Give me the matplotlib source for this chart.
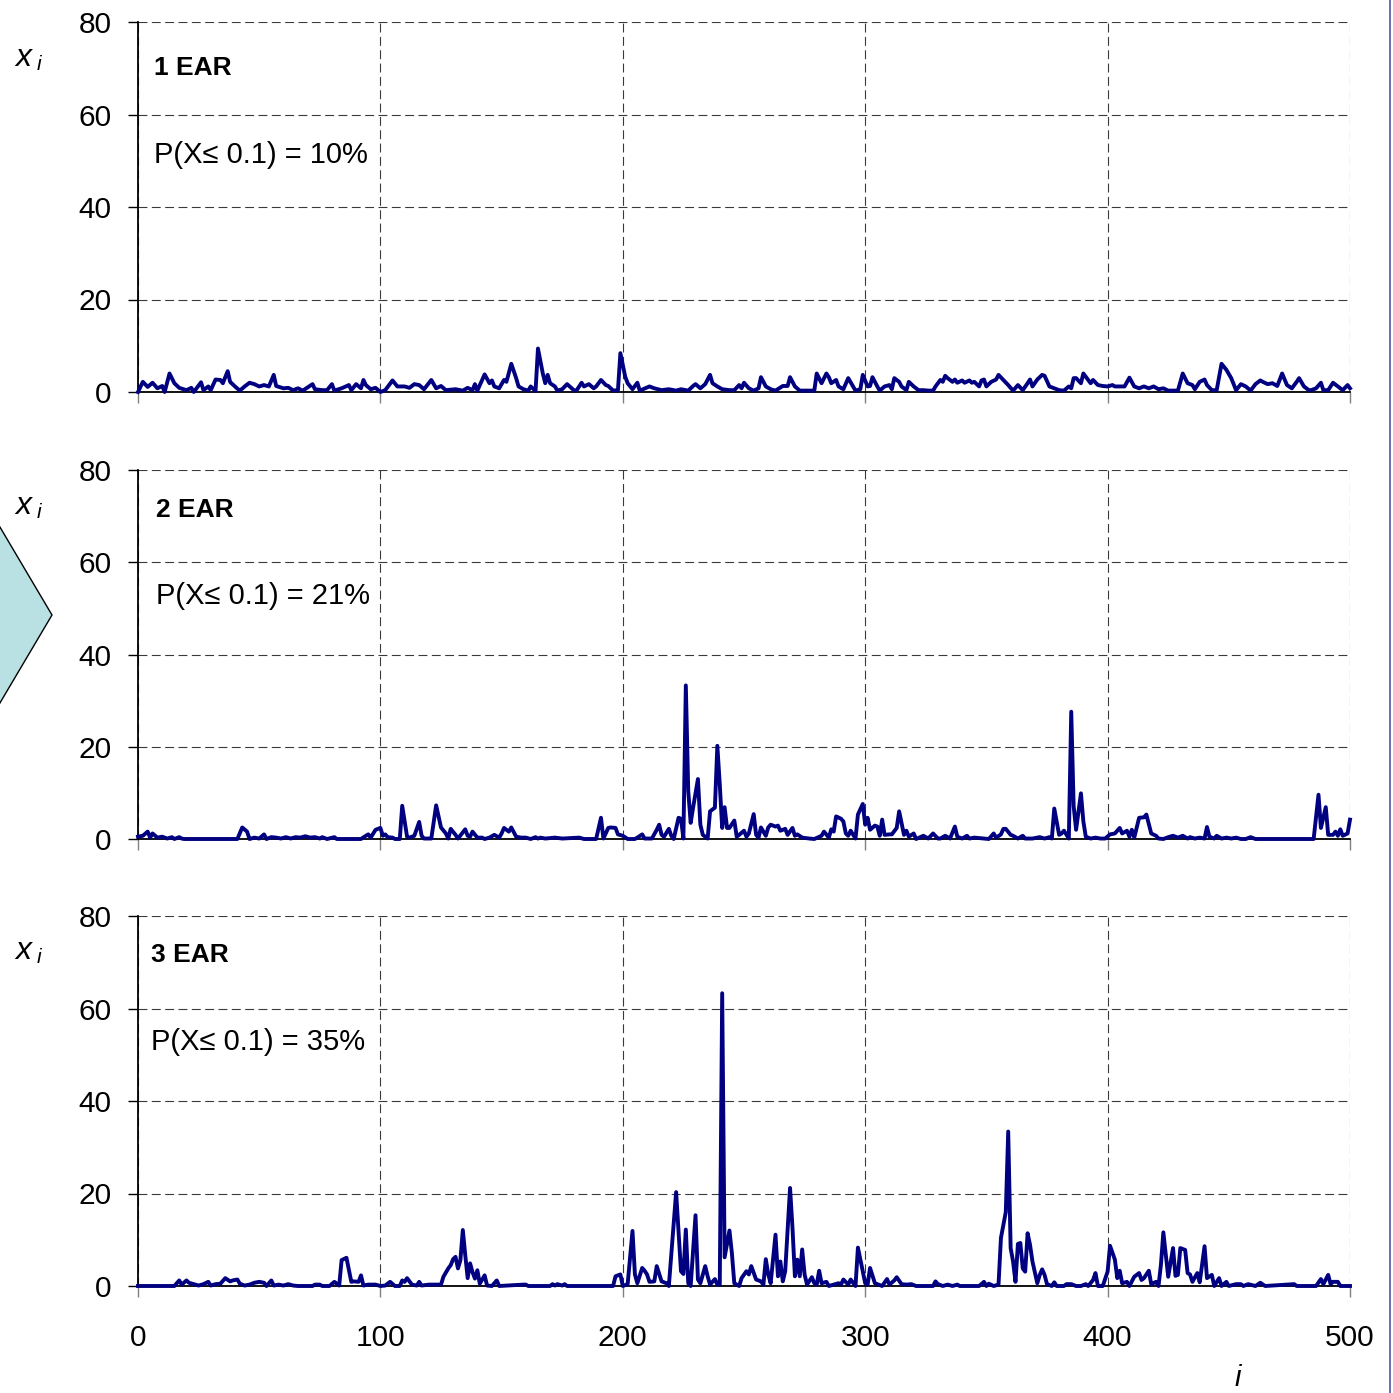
import matplotlib
matplotlib.use("Agg")
import matplotlib.pyplot as plt
from matplotlib.patches import Polygon
from matplotlib.lines import Line2D

plt.rcParams["font.family"] = ["Liberation Sans", "DejaVu Sans"]

# ---- data: sample index i and value x_i (breakpoints of each trace) ----
ear1_i = [0, 2, 4, 6, 8, 10, 11, 13, 15, 17, 20, 22, 23, 26, 27, 29, 30, 32, 34, 35,
          37, 38, 40, 42, 44, 46, 48, 50, 52, 54, 56, 57, 60, 62, 64, 66, 68, 72, 73, 76,
          78, 80, 81, 84, 87, 88, 90, 92, 93, 94, 96, 98, 100, 102, 105, 107, 110, 112, 114, 116,
          118, 121, 123, 125, 127, 131, 134, 136, 138, 139, 140, 143, 145, 146, 147, 149, 151, 152, 154, 156,
          157, 159, 161, 162, 164, 165, 167, 168, 169, 170, 172, 173, 175, 177, 180, 181, 183, 184, 186, 188,
          189, 191, 193, 194, 196, 198, 199, 201, 202, 204, 206, 207, 211, 213, 216, 219, 222, 224, 227, 229,
          230, 232, 234, 236, 237, 239, 241, 244, 246, 248, 249, 250, 252, 254, 256, 257, 259, 261, 263, 266,
          268, 269, 271, 273, 276, 279, 280, 282, 284, 285, 286, 288, 289, 291, 293, 295, 296, 298, 299, 301,
          302, 303, 305, 306, 308, 310, 311, 312, 314, 315, 317, 318, 320, 322, 324, 326, 328, 329, 331, 332,
          333, 334, 336, 337, 338, 340, 341, 343, 344, 345, 347, 348, 349, 350, 352, 354, 355, 357, 359, 361,
          363, 365, 367, 368, 369, 371, 373, 374, 376, 378, 380, 382, 384, 385, 386, 387, 389, 390, 391, 393,
          394, 396, 398, 400, 402, 403, 405, 407, 409, 411, 413, 415, 417, 419, 421, 423, 425, 427, 429, 431,
          433, 435, 436, 438, 440, 441, 443, 445, 447, 449, 451, 453, 455, 457, 459, 461, 463, 464, 466, 468,
          470, 472, 474, 476, 478, 479, 481, 483, 484, 486, 488, 489, 491, 493, 495, 497, 499, 500]
ear1_x = [0, 2.2, 1.1, 2.0, 0.8, 1.3, 0, 4.0, 1.9, 0.9, 0.4, 0.9, 0, 2.1, 0.4, 1.2, 0.4, 2.7, 2.6, 1.9,
          4.5, 2.2, 1.2, 0.3, 1.2, 2.0, 1.7, 1.2, 1.5, 1.2, 3.7, 1.3, 0.8, 0.9, 0.4, 0.8, 0.3, 1.7, 0.6, 0.4,
          0.4, 1.7, 0.3, 0.8, 1.5, 0.4, 1.7, 0.8, 2.6, 1.5, 0.6, 0.9, 0, 0.4, 2.5, 1.2, 1.2, 0.9, 1.7, 1.5,
          0.6, 2.6, 0.8, 1.3, 0.4, 0.6, 0.3, 0.9, 0.4, 1.7, 0.3, 3.8, 1.9, 2.5, 1.2, 0.8, 2.6, 2.2, 6.1, 3.0,
          1.2, 0.6, 0.3, 1.2, 0.2, 9.4, 4.0, 1.9, 3.7, 1.9, 1.2, 0.3, 0.6, 1.7, 0.3, 0.4, 2.0, 1.2, 1.7, 0.8,
          1.2, 2.6, 1.5, 1.3, 0.3, 0.4, 8.4, 3.3, 1.9, 0.6, 2.0, 0.3, 1.2, 0.8, 0.4, 0.6, 0.3, 0.6, 0.3, 1.3,
          1.7, 0.8, 1.7, 3.7, 1.9, 1.2, 0.6, 0.4, 0.4, 1.5, 0.8, 2.0, 0.8, 0.3, 0.8, 3.2, 1.2, 0.6, 0.3, 1.3,
          1.3, 3.2, 1.2, 0.3, 0.3, 0.3, 4.0, 1.9, 4.0, 3.2, 1.9, 2.6, 1.2, 0.6, 3.0, 1.2, 0.3, 0.6, 3.7, 1.2,
          1.3, 3.2, 1.2, 0.3, 1.2, 1.5, 0.6, 3.0, 2.2, 1.2, 0.4, 2.2, 1.2, 0.4, 0.4, 0.3, 0.3, 1.2, 2.6, 2.2,
          3.5, 3.0, 2.2, 2.7, 2.0, 2.5, 2.0, 2.5, 2.0, 2.2, 1.2, 2.5, 2.7, 1.2, 2.2, 2.7, 3.7, 2.6, 1.5, 0.3,
          1.5, 0.4, 1.9, 2.7, 1.2, 2.7, 3.7, 3.5, 1.2, 0.8, 0.4, 0.3, 1.2, 0.8, 3.0, 3.0, 1.9, 4.0, 3.3, 1.9,
          2.6, 1.5, 1.3, 1.2, 1.5, 1.2, 1.2, 1.2, 3.1, 1.2, 0.8, 1.2, 0.8, 1.2, 0.6, 0.8, 0.3, 0.3, 0.3, 4.0,
          1.9, 1.5, 0.6, 2.2, 2.7, 1.5, 0.4, 0.4, 6.1, 4.8, 3.0, 0.4, 1.7, 1.2, 0.3, 1.7, 2.5, 2.2, 1.7, 1.9,
          1.3, 4.0, 1.5, 0.8, 2.2, 3.0, 1.2, 0.4, 0.4, 0.8, 2.0, 0.4, 0.4, 2.0, 1.2, 0.4, 1.5, 0.8]

ear2_i = [0, 2, 4, 5, 6, 8, 10, 12, 14, 15, 17, 18, 19, 41, 43, 45, 46, 48, 50, 52,
          53, 55, 57, 59, 61, 63, 65, 67, 69, 71, 73, 75, 76, 78, 81, 82, 92, 94, 95, 96,
          98, 100, 101, 102, 103, 105, 106, 108, 109, 111, 112, 114, 116, 117, 118, 121, 123, 125, 127, 128,
          129, 131, 132, 135, 136, 137, 138, 140, 142, 143, 145, 147, 149, 150, 151, 153, 154, 156, 158, 160,
          162, 164, 165, 166, 168, 172, 175, 182, 184, 189, 191, 192, 194, 195, 197, 198, 200, 202, 205, 206,
          208, 209, 212, 214, 215, 216, 217, 219, 220, 221, 223, 224, 225, 226, 227, 228, 229, 231, 232, 233,
          235, 236, 238, 239, 240, 241, 242, 243, 244, 246, 247, 248, 250, 251, 252, 254, 255, 256, 257, 259,
          260, 261, 263, 264, 265, 267, 268, 270, 271, 272, 274, 277, 279, 282, 283, 285, 286, 287, 288, 290,
          291, 292, 293, 294, 296, 297, 299, 300, 301, 302, 304, 305, 306, 307, 308, 310, 311, 313, 314, 316,
          317, 318, 320, 321, 324, 326, 328, 330, 331, 333, 335, 337, 338, 340, 342, 343, 345, 349, 351, 353,
          354, 356, 357, 358, 360, 361, 363, 365, 366, 369, 372, 374, 376, 377, 378, 380, 381, 382, 384, 385,
          386, 387, 389, 390, 391, 393, 395, 397, 399, 401, 403, 405, 406, 408, 409, 410, 411, 413, 415, 416,
          418, 420, 421, 423, 425, 427, 429, 431, 433, 434, 436, 438, 440, 441, 442, 444, 445, 447, 449, 451,
          453, 455, 457, 459, 461, 485, 487, 488, 490, 491, 493, 494, 495, 496, 497, 499, 500]
ear2_x = [0.5, 0.7, 1.6, 0.3, 1.2, 0.3, 0.5, 0.1, 0.4, 0, 0.4, 0.1, 0, 0, 2.5, 1.6, 0, 0.3, 0.1, 1.0,
          0, 0.4, 0.3, 0.1, 0.4, 0.1, 0.4, 0.3, 0.6, 0.3, 0.4, 0.1, 0.4, 0, 0.4, 0, 0, 0.7, 1.0, 0.3,
          2.0, 2.4, 0.7, 1.0, 0.4, 0.3, 0, 0, 7.2, 0.5, 0.3, 0.7, 3.7, 0.7, 0.1, 0.1, 7.3, 2.5, 1.2, 0.1,
          2.2, 0.9, 0.1, 2.1, 0.7, 0.5, 1.6, 0.3, 0.3, 0, 0.3, 0.9, 0.3, 1.2, 2.4, 1.6, 2.5, 0.5, 0.3, 0.3,
          0, 0.4, 0.1, 0.3, 0.1, 0.3, 0.1, 0.3, 0, 0, 4.6, 0.1, 2.4, 2.5, 2.4, 1.0, 0.7, 0, 0, 0.3,
          1.0, 0.1, 0.1, 2.0, 3.1, 0.9, 0.5, 2.2, 0.7, 0, 4.6, 4.4, 0.1, 33.3, 10.4, 3.5, 6.8, 13.0, 3.1, 0.9,
          0.1, 6.0, 6.8, 20.2, 11.9, 2.4, 6.9, 2.4, 2.4, 4.0, 0.5, 0.9, 1.8, 0.5, 1.2, 5.4, 0.9, 0.3, 2.5, 0.7,
          2.5, 3.1, 2.7, 2.9, 1.8, 2.2, 0.9, 2.4, 0.7, 1.0, 0.3, 0.1, 0, 0.7, 1.6, 0.3, 2.1, 1.6, 4.9, 4.4,
          3.8, 1.2, 0.7, 1.8, 0.1, 5.3, 7.6, 3.1, 4.6, 2.0, 2.9, 2.7, 0.7, 4.2, 0.9, 1.0, 1.0, 2.4, 6.0, 0.9,
          1.8, 0.5, 1.2, 0, 0.7, 0.1, 1.2, 0.1, 0.1, 0.7, 0.1, 2.7, 0.5, 0.1, 0.7, 0.1, 0.3, 0.1, 0, 1.2,
          0.3, 1.0, 2.2, 2.2, 0.9, 0.7, 0.1, 0.7, 0.1, 0.1, 0.4, 0.1, 0.4, 0.1, 6.6, 0.9, 1.2, 1.8, 0.1, 27.6,
          7.1, 2.0, 9.9, 3.8, 0.5, 0.1, 0.3, 0.1, 0.1, 1.0, 1.2, 2.4, 1.2, 1.8, 0.5, 2.0, 0.3, 4.6, 4.7, 5.3,
          1.2, 0.7, 0.1, 0, 0.4, 0.7, 0.3, 0.7, 0.1, 0.4, 0.1, 0.3, 0.1, 2.6, 0.5, 0.1, 0.7, 0.1, 0.3, 0.1,
          0.3, 0, 0, 0.4, 0, 0, 9.6, 2.4, 6.9, 0.9, 0.9, 1.6, 0.7, 2.1, 0.7, 1.2, 4.2]

ear3_i = [0, 15, 17, 18, 20, 21, 23, 25, 27, 29, 30, 32, 34, 36, 38, 39, 41, 42, 44, 46,
          48, 50, 52, 53, 55, 56, 58, 60, 62, 64, 66, 72, 73, 75, 76, 79, 81, 83, 84, 86,
          88, 89, 91, 92, 93, 95, 98, 100, 102, 104, 106, 108, 109, 110, 111, 113, 115, 116, 117, 120,
          123, 125, 126, 128, 129, 130, 131, 132, 133, 134, 135, 136, 137, 138, 139, 140, 141, 143, 144, 146,
          148, 149, 159, 160, 161, 170, 171, 172, 173, 175, 176, 177, 196, 197, 199, 200, 202, 204, 205, 206,
          208, 209, 210, 211, 213, 214, 216, 218, 219, 222, 224, 225, 226, 227, 228, 230, 231, 232, 234, 235,
          236, 238, 239, 240, 241, 242, 244, 245, 246, 248, 249, 251, 252, 253, 255, 257, 258, 259, 260, 261,
          263, 264, 265, 266, 267, 269, 270, 271, 272, 273, 274, 275, 276, 278, 279, 280, 281, 282, 284, 285,
          287, 289, 290, 291, 293, 294, 296, 297, 299, 300, 301, 302, 304, 305, 307, 309, 310, 312, 313, 315,
          317, 319, 321, 328, 329, 330, 332, 334, 336, 338, 339, 347, 349, 350, 351, 353, 355, 356, 358, 359,
          360, 361, 362, 363, 364, 365, 366, 367, 368, 369, 371, 372, 373, 374, 375, 377, 378, 379, 382, 383,
          385, 387, 389, 391, 392, 394, 395, 396, 398, 400, 401, 403, 404, 405, 406, 408, 409, 411, 413, 414,
          415, 417, 418, 420, 421, 422, 423, 425, 427, 428, 429, 430, 432, 433, 434, 435, 437, 438, 440, 441,
          443, 444, 446, 447, 449, 450, 453, 455, 456, 458, 461, 463, 465, 477, 478, 486, 488, 489, 491, 492,
          493, 495, 496, 500]
ear3_x = [0, 0, 1.2, 0.3, 1.2, 0.7, 0.4, 0.1, 0.4, 0.9, 0.1, 0.4, 0.5, 1.7, 1.0, 1.2, 1.4, 0.5, 0.1, 0.3,
          0.7, 0.9, 0.7, 0, 1.2, 0.1, 0.3, 0.1, 0.4, 0.1, 0, 0, 0.3, 0.3, 0, 0, 0.9, 0.1, 5.6, 6.1,
          0.9, 1.0, 0.9, 2.3, 0.1, 0.3, 0.3, 0, 0.1, 0.9, 0, 0, 1.2, 0.9, 1.7, 0.3, 0.1, 0.9, 0.1, 0.3,
          0.3, 0.3, 2.0, 3.8, 4.5, 5.8, 6.3, 3.8, 5.6, 12.1, 6.7, 1.7, 4.9, 3.0, 1.6, 3.4, 0.5, 2.3, 0.1, 0,
          1.2, 0, 0.3, 0.3, 0, 0, 0.4, 0.1, 0.4, 0.1, 0.4, 0, 0, 2.1, 2.5, 0, 0.4, 11.9, 2.5, 0.6,
          3.9, 3.3, 2.5, 0.9, 1.0, 4.3, 1.0, 0.6, 0, 20.3, 3.2, 2.6, 12.2, 0.6, 0, 15.3, 1.4, 0.6, 4.3, 2.1,
          0.3, 1.5, 0.3, 0.3, 63.3, 6.2, 12.0, 7.1, 0.6, 0, 1.7, 3.2, 2.5, 4.3, 1.4, 1.0, 0.3, 5.8, 2.5, 0.6,
          11.1, 2.1, 5.3, 1.0, 3.2, 21.2, 12.6, 2.1, 5.7, 2.1, 7.9, 2.5, 0.3, 1.9, 0.6, 0.3, 3.3, 0.6, 0.9, 0,
          0.3, 0.6, 0.3, 1.4, 0.3, 1.4, 0, 8.3, 3.2, 0.6, 0.3, 3.9, 0.6, 0.4, 0, 1.5, 0.3, 1.2, 1.9, 0.4,
          0.3, 0.4, 0, 0, 1.0, 0.4, 0, 0.3, 0, 0.3, 0, 0, 0.9, 0, 0.5, 0, 0.3, 10.4, 16.0, 33.4,
          8.2, 5.3, 0.9, 9.1, 9.3, 3.8, 3.1, 11.4, 8.9, 5.3, 0.6, 2.4, 3.6, 2.4, 0.4, 0, 0.8, 0, 0, 0.4,
          0.4, 0, 0, 0.4, 0, 1.3, 2.8, 0, 0, 3.1, 8.7, 5.7, 1.7, 3.3, 0.6, 0.9, 0, 2.0, 2.8, 1.3,
          1.7, 3.3, 0.4, 0.9, 0, 4.6, 11.6, 2.0, 8.2, 2.2, 2.4, 8.2, 7.8, 2.8, 2.5, 0.9, 2.8, 0.8, 8.6, 1.7,
          2.4, 0, 1.7, 0, 0.9, 0, 0.4, 0.4, 0, 0.4, 0, 0.7, 0, 0.4, 0, 0, 1.5, 0.4, 2.4, 0.4,
          0.9, 0.9, 0, 0]

panel_titles = ["1 EAR", "2 EAR", "3 EAR"]
panel_probs = ["P(X\u2264 0.1) = 10%", "P(X\u2264 0.1) = 21%", "P(X\u2264 0.1) = 35%"]
x_ticks = [0, 100, 200, 300, 400, 500]
y_ticks = [0, 20, 40, 60, 80]

series = [(ear1_i, ear1_x), (ear2_i, ear2_x), (ear3_i, ear3_x)]

# ---- figure ----
W = 1393
fig = plt.figure(figsize=(W / 100, W / 100), dpi=100)
fig.patch.set_facecolor("white")


def fx(px):
    return px / W


def fy(py):
    return 1 - py / W


# pixel rows of the top (80) and bottom (0) of each panel
rows = [(22, 392), (470, 839), (916, 1286)]
title_pos = [(6.5, 70.0, 51.2), (7.5, 71.4, 52.7), (5.5, 71.6, 52.7)]
xlabel_rows = [57, 505, 950]

for k, ((top, bot), (ii, xx)) in enumerate(zip(rows, series)):
    ax = fig.add_axes([fx(138), fy(bot), (1350 - 138) / W, (bot - top) / W])
    ax.set_axisbelow(True)
    ax.plot(ii, xx, color="#000080", lw=2.8, clip_on=False,
            solid_joinstyle="round", zorder=4)
    ax.set_xlim(0, 500)
    ax.set_ylim(0, 80)
    ax.set_xticks(x_ticks)
    ax.set_yticks(y_ticks)
    ax.grid(True, color="#3a3a3a", lw=0.8, linestyle=(0, (8, 4)))
    for s in ("top", "right"):
        ax.spines[s].set_visible(False)
    for s in ("left", "bottom"):
        ax.spines[s].set_color("black")
        ax.spines[s].set_linewidth(1.3)
    ax.tick_params(axis="y", direction="out", length=7, width=1.0,
                   color="black", pad=12, labelsize=21.5)
    ax.tick_params(axis="x", direction="out", length=8, width=1.0,
                   color="#808080", pad=19, labelsize=21.5,
                   labelbottom=(k == 2))

    tx, ty1, ty2 = title_pos[k]
    ax.text(tx, ty1, panel_titles[k], fontsize=19, fontweight="bold",
            ha="left", va="center")
    ax.text(tx, ty2, panel_probs[k], fontsize=21, ha="left", va="center")

    # axis label x_i beside each panel
    yb = xlabel_rows[k]
    fig.text(fx(15), fy(yb + 9), "x", fontsize=23, style="italic",
             ha="left", va="baseline")
    fig.text(fx(37), fy(yb + 13), "i", fontsize=15, style="italic",
             ha="left", va="baseline")

# horizontal axis label, kept just inside the bottom edge
fig.text(fx(1238), fy(1392), "i", fontsize=21, style="italic",
         ha="center", va="bottom")

# decorative arrow at the left edge and frame line at the right edge
arrow = Polygon([(fx(-6), fy(517)), (fx(52), fy(615)), (fx(-6), fy(713))],
                closed=True, facecolor="#b9e0e2", edgecolor="black", lw=1.0,
                transform=fig.transFigure)
fig.add_artist(arrow)
fig.add_artist(Line2D([fx(1389.5), fx(1389.5)], [0, 1], color="#6b6bb0",
                      lw=1.4, transform=fig.transFigure))

fig.savefig("out.png", dpi=100, facecolor="white")
